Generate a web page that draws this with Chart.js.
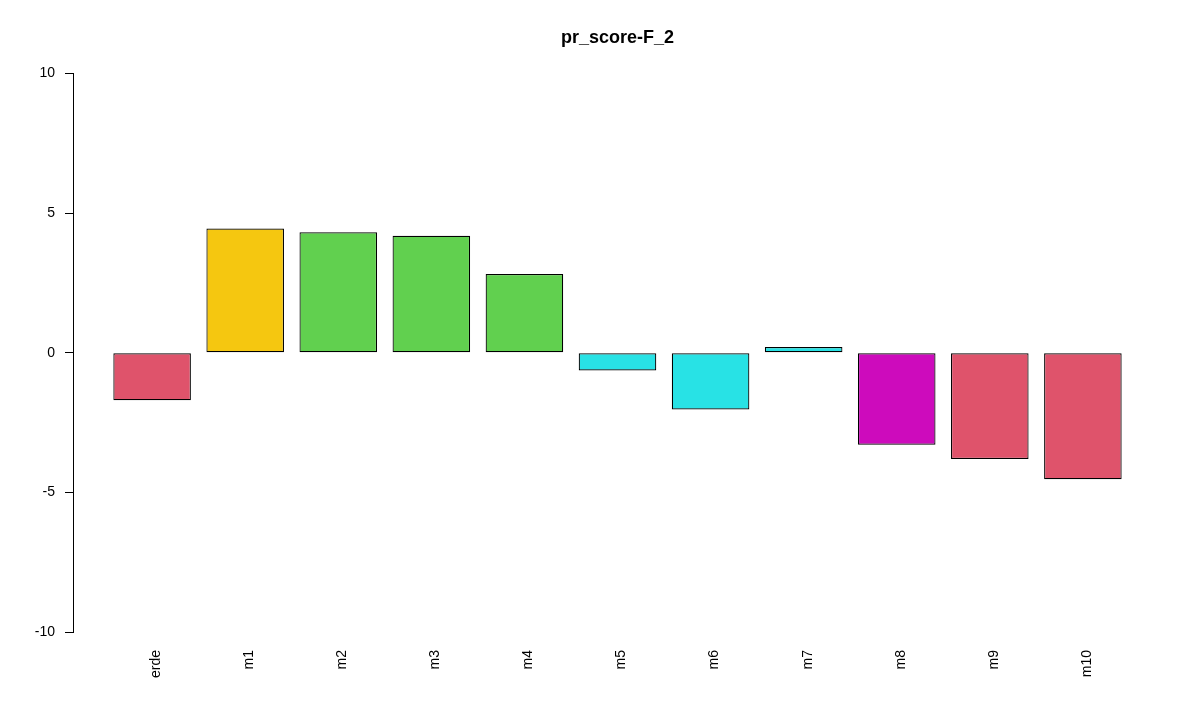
<!DOCTYPE html>
<html>
<head>
<meta charset="utf-8">
<script src="https://cdn.jsdelivr.net/npm/chart.js@4/dist/chart.umd.min.js"></script>
<style>
  html, body { margin: 0; padding: 0; background: #fff; }
  #c { display: block; }
</style>
</head>
<body>
<canvas id="c" width="1200" height="724"></canvas>
<script>
// chart data
const categories = ['erde', 'm1', 'm2', 'm3', 'm4', 'm5', 'm6', 'm7', 'm8', 'm9', 'm10'];
const scores = [-1.7, 4.45, 4.32, 4.19, 2.82, -0.63, -2.03, 0.21, -3.29, -3.80, -4.53];
const barColors = ['#DF536B', '#F5C710', '#61D04F', '#61D04F', '#61D04F', '#28E2E5',
                   '#28E2E5', '#28E2E5', '#CD0BBC', '#DF536B', '#DF536B'];
const yTicks = [-10, -5, 0, 5, 10];

const font = 'Liberation Sans, Arial, Helvetica, sans-serif';

// bars sit on a linear x scale so the axis can run past the first and last bar like R does
const points = scores.map((v, i) => ({ x: i, y: v }));

new Chart(document.getElementById('c').getContext('2d'), {
  type: 'bar',
  data: {
    datasets: [{
      data: points,
      backgroundColor: barColors,
      borderColor: '#000',
      borderWidth: 1.2,
      borderSkipped: false,
      categoryPercentage: 1,
      barPercentage: 1 / 1.2
    }]
  },
  options: {
    responsive: false,
    animation: false,
    devicePixelRatio: 1,
    layout: { padding: { left: 0, right: 38, top: 0, bottom: 0 } },
    plugins: {
      legend: { display: false },
      tooltip: { enabled: false },
      title: {
        display: true,
        text: 'pr_score-F_2',
        fullSize: false,
        color: '#000',
        font: { family: font, size: 18, weight: 'bold' },
        padding: { top: 27, bottom: 25 }
      }
    },
    scales: {
      x: {
        type: 'linear',
        offset: false,
        min: -0.85,
        max: 10.85,
        grid: { display: false, drawTicks: false },
        border: { display: false },
        afterBuildTicks: scale => {
          scale.ticks = categories.map((_, i) => ({ value: i }));
        },
        afterFit: scale => { scale.height = 92; },
        ticks: {
          autoSkip: false,
          minRotation: 90,
          maxRotation: 90,
          padding: 18,
          labelOffset: 4,
          color: '#000',
          font: { family: font, size: 14 },
          callback: v => categories[v]
        }
      },
      y: {
        min: -10,
        max: 10,
        afterBuildTicks: scale => {
          scale.ticks = yTicks.map(v => ({ value: v }));
        },
        afterFit: scale => { scale.width = 73; },
        grid: {
          display: true,
          drawOnChartArea: false,
          drawTicks: true,
          tickLength: 8,
          color: '#000',
          lineWidth: 1
        },
        border: { display: true, color: '#000', width: 1 },
        ticks: {
          padding: 10,
          color: '#000',
          font: { family: font, size: 14 }
        }
      }
    }
  }
});
</script>
</body>
</html>
